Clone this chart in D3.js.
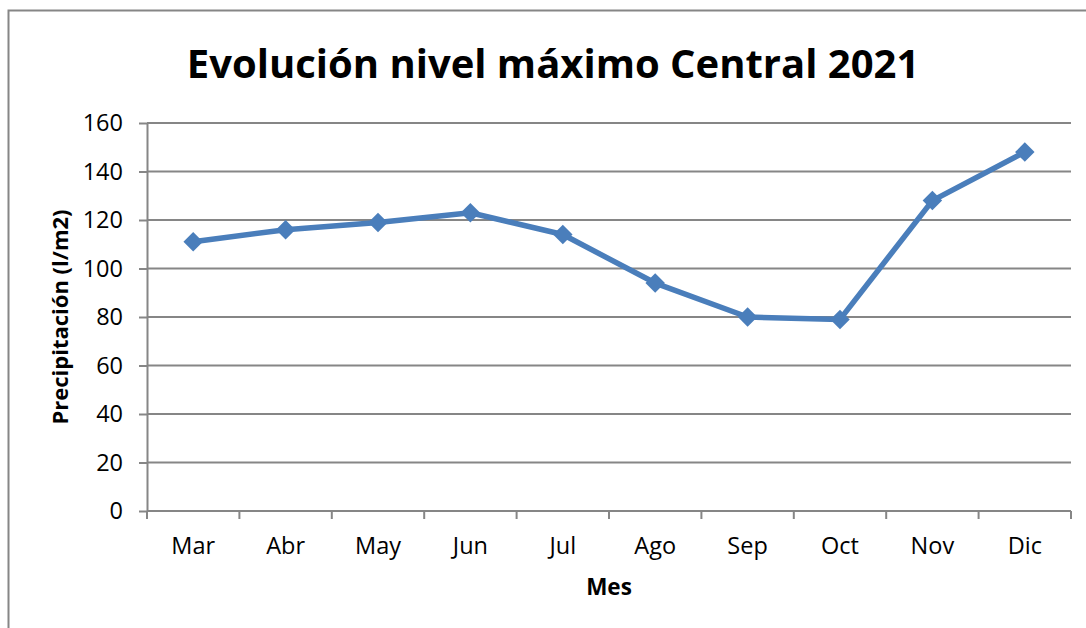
<!DOCTYPE html>
<html>
<head>
  <meta charset="utf-8">
  <title>Evolución nivel máximo Central 2021</title>
  <style>
    body { margin: 0; background: #fff; }
    text { font-family: "Open Sans", "Noto Sans", sans-serif; fill: #000; }
    .grid line { stroke: #868686; stroke-width: 2; }
    .axis path, .axis line { stroke: #868686; stroke-width: 2; fill: none; }
    .axis text { font-size: 23.5px; }
  </style>
  <script src="https://d3js.org/d3.v7.min.js"></script>
</head>
<body>
  <div id="chart"></div>
  <script>
    const months = ["Mar", "Abr", "May", "Jun", "Jul", "Ago", "Sep", "Oct", "Nov", "Dic"];
    const values = [111, 116, 119, 123, 114, 94, 80, 79, 128, 148];
    const yTicks = [0, 20, 40, 60, 80, 100, 120, 140, 160];

    const width = 1086;
    const height = 628;
    const margin = { top: 123, right: 15, bottom: 117, left: 147 };
    const innerW = width - margin.left - margin.right;
    const innerH = height - margin.top - margin.bottom;

    const svg = d3.select("#chart")
      .append("svg")
      .attr("width", width)
      .attr("height", height);

    // outer chart border (runs off the right and bottom edges)
    svg.append("rect")
      .attr("x", 8.5)
      .attr("y", 10.5)
      .attr("width", width + 20)
      .attr("height", height + 20)
      .attr("fill", "none")
      .attr("stroke", "#868686")
      .attr("stroke-width", 2);

    const g = svg.append("g")
      .attr("transform", `translate(${margin.left},${margin.top})`);

    const x = d3.scaleBand()
      .domain(months)
      .range([0, innerW])
      .padding(0);

    const y = d3.scaleLinear()
      .domain([0, 160])
      .range([innerH, 0]);

    // horizontal gridlines
    g.append("g")
      .attr("class", "grid")
      .selectAll("line")
      .data(yTicks.filter(d => d > 0))
      .enter()
      .append("line")
      .attr("x1", 0)
      .attr("x2", innerW)
      .attr("y1", d => y(d))
      .attr("y2", d => y(d));

    g.append("g")
      .attr("class", "axis")
      .call(d3.axisLeft(y).tickValues(yTicks).tickSize(8).tickSizeOuter(0).tickPadding(16));

    // x axis: ticks sit on band edges, labels centred in bands
    const xAxis = g.append("g")
      .attr("class", "axis")
      .attr("transform", `translate(0,${innerH})`);
    xAxis.append("line")
      .attr("x1", 0).attr("x2", innerW);
    xAxis.selectAll(".tk")
      .data(months.concat(["end"]))
      .enter()
      .append("line")
      .attr("class", "tk")
      .attr("x1", (d, i) => i < months.length ? x(d) : innerW)
      .attr("x2", (d, i) => i < months.length ? x(d) : innerW)
      .attr("y1", 0)
      .attr("y2", 8);
    xAxis.selectAll("text")
      .data(months)
      .enter()
      .append("text")
      .attr("x", d => x(d) + x.bandwidth() / 2)
      .attr("y", 43)
      .attr("text-anchor", "middle")
      .text(d => d);

    const cx = (d, i) => x(months[i]) + x.bandwidth() / 2;

    const line = d3.line()
      .x((d, i) => cx(d, i))
      .y(d => y(d));

    g.append("path")
      .datum(values)
      .attr("d", line)
      .attr("fill", "none")
      .attr("stroke", "#4A7EBB")
      .attr("stroke-width", 5.5)
      .attr("stroke-linejoin", "round");

    g.selectAll(".pt")
      .data(values)
      .enter()
      .append("path")
      .attr("class", "pt")
      .attr("transform", (d, i) => `translate(${cx(d, i)},${y(d)}) rotate(45)`)
      .attr("d", d3.symbol().type(d3.symbolSquare).size(190))
      .attr("fill", "#4A7EBB");

    // titles
    svg.append("text")
      .attr("x", 553)
      .attr("y", 78)
      .attr("text-anchor", "middle")
      .attr("font-size", 40)
      .attr("font-weight", "bold")
      .text("Evolución nivel máximo Central 2021");

    svg.append("text")
      .attr("transform", `translate(68,${margin.top + innerH / 2}) rotate(-90)`)
      .attr("text-anchor", "middle")
      .attr("font-size", 22)
      .attr("font-weight", "bold")
      .text("Precipitación (l/m2)");

    svg.append("text")
      .attr("x", margin.left + innerW / 2)
      .attr("y", 595)
      .attr("text-anchor", "middle")
      .attr("font-size", 22.5)
      .attr("font-weight", "bold")
      .text("Mes");
  </script>
</body>
</html>
